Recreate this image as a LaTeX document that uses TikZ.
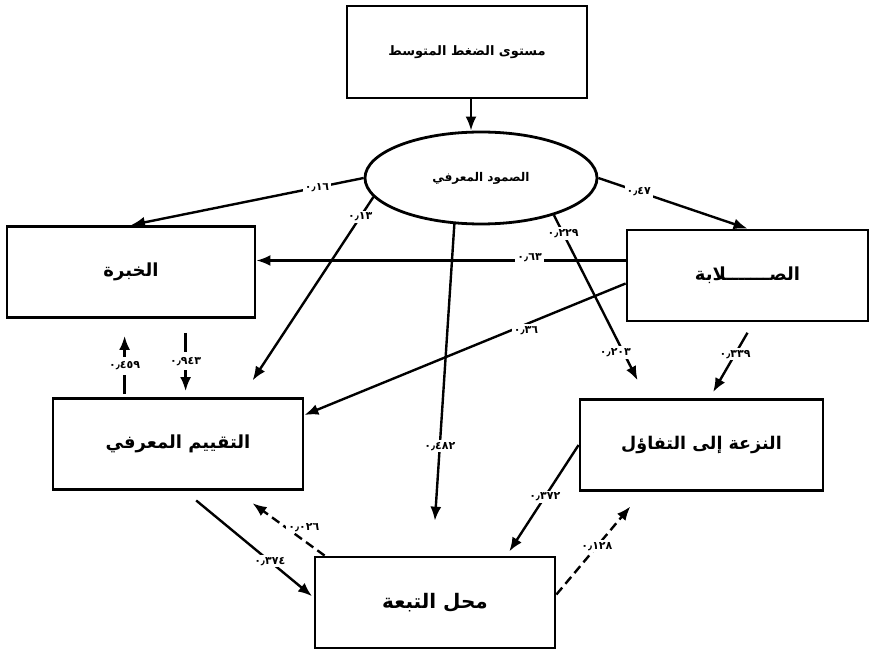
\documentclass[tikz,border=0pt]{standalone}
\usepackage{fontspec}
\usetikzlibrary{arrows.meta,shapes.geometric,calc}
\newfontfamily\arabicfont[Script=Arabic]{DejaVu Sans}
\TeXXeTstate=1
\begin{document}
\begin{tikzpicture}[x=1pt,y=-1pt,
  box/.style={draw, line width=2.8pt, minimum width=#1, minimum height=91pt, inner sep=0pt,
    font=\arabicfont\bfseries\fontsize{18}{21}\selectfont},
  arr/.style={line width=2.4pt, -{Latex[length=14pt,width=11pt]}},
  dsh/.style={dash pattern=on 9pt off 5pt},
  lab/.style={fill=white, inner sep=2pt, font=\arabicfont\bfseries\fontsize{11}{11}\selectfont}]
\fill[white] (0,0) rectangle (870,652);
\useasboundingbox (0,0) rectangle (870,652);
% nodes
\node[box=240pt, minimum height=92pt, font=\arabicfont\bfseries\fontsize{13}{15}\selectfont] (top) at (467,52) {\beginR مستوى الضغط المتوسط\endR};
\node[draw, ellipse, line width=2.8pt, minimum width=232pt, minimum height=92pt, inner sep=0pt,
  font=\arabicfont\bfseries\fontsize{12}{14}\selectfont] (ell) at (481,178) {\beginR الصمود المعرفي\endR};
\node[box=248pt, font=\arabicfont\bfseries\fontsize{18}{21}\selectfont] (khibra) at (131,272) {الخبرة};
\node[box=241pt] (salaba) at (747.5,275.5) {الصـــــــلابة};
\node[box=250pt] (taq) at (178,444) {\beginR التقييم المعرفي\endR};
\node[box=243pt, font=\arabicfont\bfseries\fontsize{17.5}{21}\selectfont] (tafaul) at (701.5,445) {\beginR النزعة إلى التفاؤل\endR};
\node[box=240pt, font=\arabicfont\bfseries\fontsize{20}{22}\selectfont] (mahal) at (435,602.5) {\beginR محل التبعة\endR};
% connectors
\draw[arr] ($(top.south)+(4,0)$) coordinate (t1) -- (t1 |- ell.north);
\draw[arr] (ell.west) -- node[lab,pos=0.2]{٠٫١٦} (khibra.north);
\draw[arr, shorten >=20pt] (ell.190) -- node[lab,pos=0.1]{٠٫١٣} ($(taq.north west)+(190,0)$);
\draw[arr] (ell.east) -- node[lab,pos=0.27]{٠٫٤٧} (salaba.north);
\draw[arr] ($(salaba.west)+(0,-15)$) coordinate (s4) -- node[lab,pos=0.26,yshift=3pt]{٠٫٦٣} (s4 -| khibra.east);
\draw[arr, shorten >=35pt] (ell.240) -- node[lab,pos=0.67]{٠٫٤٨٢} ($(mahal.north west)+(119,0)$);
\draw[arr, shorten >=20pt] (ell.333) -- node[lab,pos=0.1]{٠٫٢٢٩} node[lab,pos=0.75,xshift=-8pt]{٠٫٢٠٣} ($(tafaul.north west)+(68,0)$);
\draw[arr] ($(salaba.west)+(0,8)$) -- node[lab,pos=0.31,yshift=-6pt]{٠٫٣٦} ($(taq.east)+(0,-29)$);
\draw[arr, shorten <=12pt, shorten >=7pt] ($(salaba.south)+(6,0)$) -- node[lab,pos=0.42]{٠٫٣٣٩} ($(tafaul.north west)+(131,0)$);
\draw[arr, shorten <=3pt, shorten >=17pt] ($(taq.north west)+(73,0)$) -- node[lab,pos=0.4,inner ysep=5pt]{٠٫٤٥٩} ($(khibra.south west)+(119,0)$);
\draw[arr, shorten <=14pt, shorten >=6pt] ($(khibra.south west)+(180,0)$) -- node[lab,pos=0.54,inner ysep=5pt]{٠٫٩٤٣} ($(taq.north west)+(134,0)$);
\draw[arr, shorten <=15pt, shorten >=2pt] ($(taq.south west)+(133,0)$) -- node[lab,pos=0.66]{٠٫٣٧٤} ($(mahal.west)+(0,-5)$);
\draw[arr, dsh, shorten >=21pt] ($(mahal.north west)+(11,0)$) -- node[lab,pos=0.3,xshift=6pt,yshift=9pt]{٠٫٠٢٦} ($(taq.south west)+(184,0)$);
\draw[arr, shorten >=5pt] (tafaul.west) -- node[lab,pos=0.47]{٠٫٣٧٢} ($(mahal.north west)+(193,0)$);
\draw[arr, dsh, shorten >=19pt] ($(mahal.east)+(0,-8)$) -- node[lab,pos=0.47]{٠٫١٢٨} ($(tafaul.south west)+(64,0)$);
\end{tikzpicture}
\end{document}
